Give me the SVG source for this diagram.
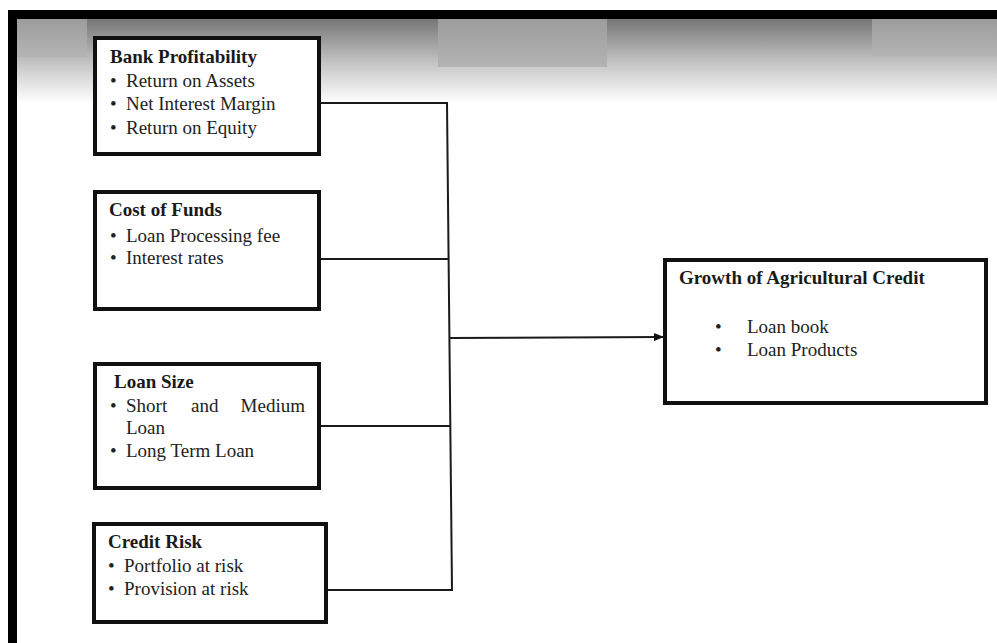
<svg xmlns="http://www.w3.org/2000/svg" width="997" height="643" viewBox="0 0 997 643">
<defs>
<linearGradient id="band" x1="0" y1="0" x2="0" y2="1">
<stop offset="0" stop-color="#767676"/>
<stop offset="0.55" stop-color="#c8c8c8"/>
<stop offset="1" stop-color="#ffffff"/>
</linearGradient>
<linearGradient id="patch" x1="0" y1="0" x2="0" y2="1">
<stop offset="0" stop-color="#9c9c9c"/>
<stop offset="1" stop-color="#b4b4b4"/>
</linearGradient>
<marker id="arrow" markerWidth="10" markerHeight="8" refX="9" refY="4" orient="auto" markerUnits="userSpaceOnUse">
<path d="M0,0 L10,4 L0,8 z" fill="#111"/>
</marker>
<style>
.box{fill:#fff;stroke:#111;stroke-width:4}
.t{font-family:"Liberation Serif","Times New Roman",serif;font-size:19px;fill:#222}
.b{font-weight:bold;fill:#1a1a1a}
.c{fill:none;stroke:#1a1a1a;stroke-width:2}
</style>
</defs>
<rect x="0" y="0" width="997" height="643" fill="#fff"/>
<rect x="17" y="19" width="980" height="84" fill="url(#band)"/>
<rect x="17" y="19" width="70" height="38" fill="url(#patch)"/>
<rect x="438" y="19" width="169" height="48" fill="url(#patch)"/>
<rect x="872" y="19" width="125" height="37" fill="url(#patch)"/>
<rect x="8" y="10" width="989" height="9" fill="#000"/>
<rect x="8" y="10" width="9" height="633" fill="#000"/>

<g id="connectors">
<polyline class="c" points="321,103 447,103 452,590 328,590"/>
<line class="c" x1="321" y1="259" x2="448" y2="259"/>
<line class="c" x1="321" y1="426" x2="450" y2="426"/>
<line class="c" x1="450" y1="338" x2="663" y2="337" marker-end="url(#arrow)"/>
</g>

<g id="bank-profitability">
<rect class="box" x="95" y="38" width="224" height="116"/>
<text class="t b" x="110" y="63">Bank Profitability</text>
<text class="t" x="110" y="87">•</text><text class="t" x="126" y="87">Return on Assets</text>
<text class="t" x="110" y="110">•</text><text class="t" x="126" y="110">Net Interest Margin</text>
<text class="t" x="110" y="134">•</text><text class="t" x="126" y="134">Return on Equity</text>
</g>

<g id="cost-of-funds">
<rect class="box" x="95" y="192" width="224" height="117"/>
<text class="t b" x="109" y="216">Cost of Funds</text>
<text class="t" x="110" y="242">•</text><text class="t" x="126" y="242">Loan Processing fee</text>
<text class="t" x="110" y="264">•</text><text class="t" x="126" y="264">Interest rates</text>
</g>

<g id="loan-size">
<rect class="box" x="95" y="364" width="224" height="124"/>
<text class="t b" x="114" y="388">Loan Size</text>
<text class="t" x="110" y="412">•</text><text class="t" x="126" y="412">Short</text><text class="t" x="191" y="412">and</text><text class="t" x="305" y="412" text-anchor="end">Medium</text>
<text class="t" x="126" y="434">Loan</text>
<text class="t" x="110" y="457">•</text><text class="t" x="126" y="457">Long Term Loan</text>
</g>

<g id="credit-risk">
<rect class="box" x="94" y="524" width="232" height="98"/>
<text class="t b" x="108" y="548">Credit Risk</text>
<text class="t" x="108" y="572">•</text><text class="t" x="124" y="572">Portfolio at risk</text>
<text class="t" x="108" y="595">•</text><text class="t" x="124" y="595">Provision at risk</text>
</g>

<g id="growth">
<rect class="box" x="665" y="260" width="321" height="143"/>
<text class="t b" x="679" y="284">Growth of Agricultural Credit</text>
<text class="t" x="715" y="333">•</text><text class="t" x="747" y="333">Loan book</text>
<text class="t" x="715" y="356">•</text><text class="t" x="747" y="356">Loan Products</text>
</g>
</svg>
